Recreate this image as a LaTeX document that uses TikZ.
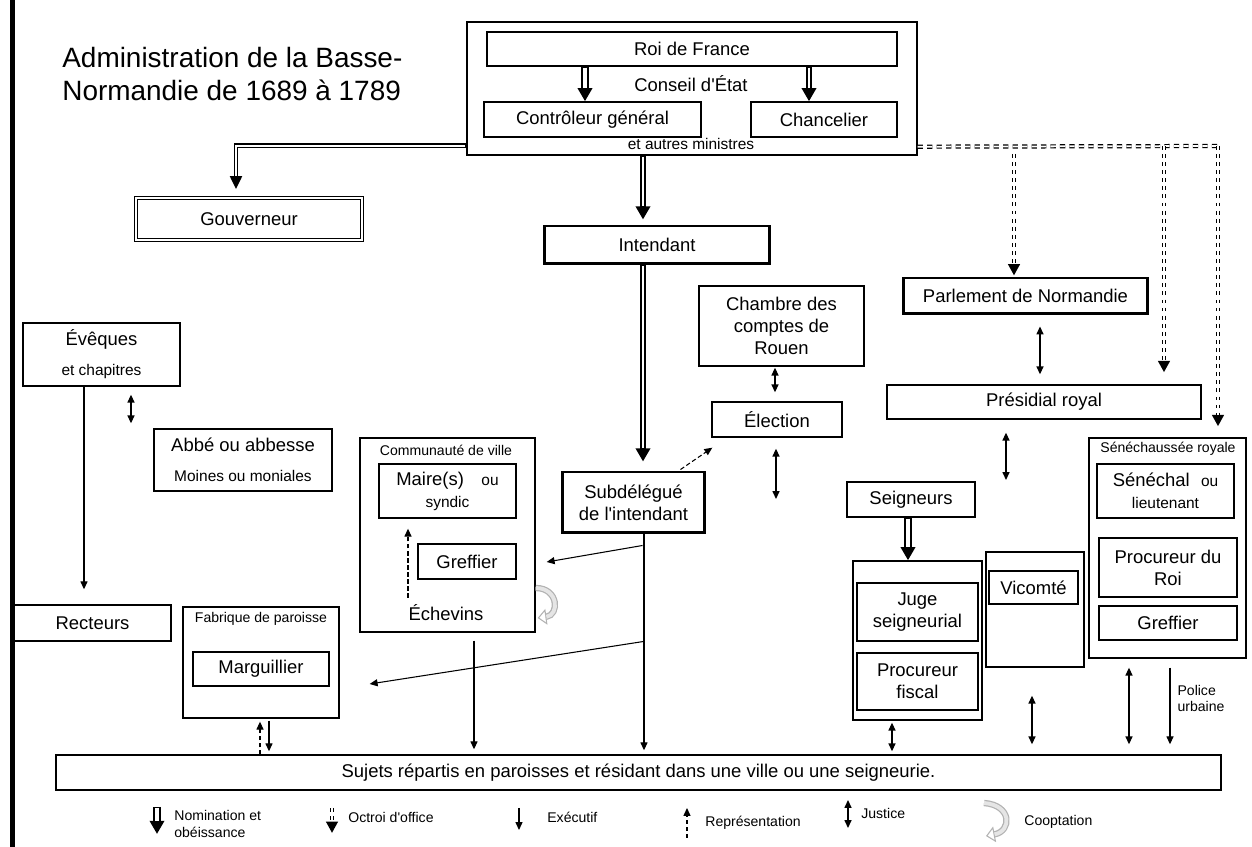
\documentclass[tikz,border=0pt]{standalone}
\usepackage{fontspec}
\setmainfont{Liberation Sans}[Ligatures=CommonOff]
\usetikzlibrary{arrows.meta,positioning,calc}

\newcommand{\fsMain}{\fontsize{10.5}{12.5}\selectfont}
\newcommand{\fsSmall}{\fontsize{8.8}{10.4}\selectfont}
\newcommand{\fsNote}{\fontsize{8}{9.2}\selectfont}
\newcommand{\fsTitle}{\fontsize{15.9}{18.8}\selectfont}

\begin{document}
\begin{tikzpicture}[x=0.02cm, y=-0.02cm,
  box/.style={draw, line width=0.8pt, inner sep=0pt, align=center, font=\fsMain},
  boldbox/.style={box, line width=1.7pt},
  group/.style={draw, line width=0.8pt, inner sep=0pt},
  txt/.style={inner sep=0pt, align=center, font=\fsMain},
  note/.style={inner sep=0pt, align=left, font=\fsNote},
  nom/.style={line width=4.4pt, -{Triangle[length=7.5pt,width=8pt]},
    postaction={draw=white, line width=2.2pt, arrows=-, shorten <=0.5pt, shorten >=7.5pt}},
  nomb/.style={line width=3.8pt, -{Triangle[length=7.5pt,width=8pt]},
    postaction={draw=white, line width=1pt, arrows=-, shorten <=0.5pt, shorten >=7.5pt}},
  nomt/.style={line width=2.8pt, -{Triangle[length=7.5pt,width=6.5pt]},
    postaction={draw=white, line width=1.3pt, arrows=-, shorten <=0.5pt, shorten >=7.5pt}},
  octh/.style={line width=2.4pt, dash pattern=on 3pt off 2.4pt,
    postaction={draw=white, line width=1pt}},
  oct/.style={line width=2.6pt, dash pattern=on 2.2pt off 2.4pt, -{Triangle[length=6.5pt,width=6.5pt]},
    postaction={draw=white, line width=0.9pt, arrows=-, shorten >=6.5pt}},
  just/.style={line width=0.7pt, {Triangle[length=4.5pt,width=4pt]}-{Triangle[length=4.5pt,width=4pt]}},
  exe/.style={line width=0.6pt, -{Triangle[length=4.5pt,width=4pt]}},
  repr/.style={exe, dash pattern=on 2.5pt off 1.5pt},
  coop/.style={line width=3.6pt, draw=gray!60, -{Triangle[length=5pt,width=9pt,fill=white,line width=0.6pt]},
    postaction={draw=gray!20, line width=2.2pt, arrows=-, shorten >=5pt}}
]
\useasboundingbox (0,0) rectangle (1252,847);

\draw[line width=2.3pt] (12.5,0) -- (12.5,847);
\node[anchor=north west, inner sep=0pt, align=left, font=\fsTitle] (titre) at (62,47) {Administration de la Basse-\\Normandie de 1689 à 1789};

\node[group, minimum width=9cm, minimum height=2.66cm] (conseil) at (692,88.5) {};
\node[box, minimum width=8.2cm, minimum height=0.68cm] (roi) at (692,49) {Roi de France};
\node[txt, anchor=base] (ce) at (691,92) {Conseil d\textquotesingle État};
\node[box, minimum width=4.34cm, minimum height=0.7cm] (controleur) at (592.5,119.5) {Contrôleur général};
\node[box, minimum width=2.92cm, minimum height=0.7cm] (chancelier) at (824,119.5) {Chancelier};
\node[txt, anchor=base, font=\fsSmall] (ministres) at (691,150) {et autres ministres};

\node[box, double, double distance=1.3pt, line width=0.7pt, minimum width=4.52cm, minimum height=0.84cm] (gouverneur) at (249,219) {Gouverneur};
\node[boldbox, minimum width=4.52cm, minimum height=0.76cm] (intendant) at (657,245) {Intendant};
\node[box, minimum width=3.3cm, minimum height=1.6cm] (chambre) at (781.5,326) {Chambre des\\comptes de\\Rouen};
\node[box, minimum width=2.6cm, minimum height=0.7cm] (election) at (777,419.5) {Élection};
\node[boldbox, minimum width=2.86cm, minimum height=1.22cm] (subdelegue) at (633.5,502.5) {Subdélégué\\de l\textquotesingle intendant};

\node[boldbox, minimum width=4.9cm, minimum height=0.72cm] (parlement) at (1025.5,296) {Parlement de Normandie};
\node[box, minimum width=6.28cm, minimum height=0.68cm] (presidial) at (1044,402) {Présidial royal};
\node[box, minimum width=2.56cm, minimum height=0.7cm] (seigneurs) at (911,499.5) {Seigneurs};
\node[group, minimum width=2.58cm, minimum height=3.18cm] (seigneurie) at (917.5,640.5) {};
\node[box, minimum width=2.42cm, minimum height=1.16cm] (juge) at (917.5,612) {Juge\\seigneurial};
\node[box, minimum width=2.42cm, minimum height=1.14cm] (procfiscal) at (917.5,681.5) {Procureur\\fiscal};
\node[group, minimum width=1.96cm, minimum height=2.3cm] (vicomte) at (1035,609.5) {};
\node[box, minimum width=1.78cm, minimum height=0.66cm] (vicomteint) at (1033.5,587.5) {Vicomté};
\node[group, minimum width=3.14cm, minimum height=4.4cm] (senechaussee) at (1167.5,548) {};
\node[note, anchor=base] (senetitre) at (1168,453) {Sénéchaussée royale};
\node[box, minimum width=2.74cm, minimum height=1.08cm] (senechal) at (1165.5,491) {Sénéchal\hspace{3.5pt} {\fsSmall ou}\\{\fsSmall lieutenant}};
\node[box, minimum width=2.76cm, minimum height=1.18cm] (procroi) at (1168,567.5) {Procureur du\\Roi};
\node[box, minimum width=2.76cm, minimum height=0.68cm] (greffierS) at (1168,623) {Greffier};

\node[box, minimum width=3.14cm, minimum height=1.26cm] (eveques) at (101.5,354.5) {Évêques\\[4.5pt]{\fsSmall et chapitres}};
\node[box, minimum width=3.56cm, minimum height=1.24cm] (abbe) at (243,460) {Abbé ou abbesse\\[4.5pt]{\fsSmall Moines ou moniales}};
\node[group, minimum width=3.5cm, minimum height=3.88cm] (communaute) at (447.5,535) {};
\node[note, anchor=base] (comtitre) at (446,456) {Communauté de ville};
\node[box, minimum width=2.74cm, minimum height=1.08cm] (maire) at (447.5,491) {Maire(s)\hspace{7pt} {\fsSmall ou}\\{\fsSmall syndic}};
\node[box, minimum width=1.96cm, minimum height=0.7cm] (greffierC) at (467,561.5) {Greffier};
\node[txt, anchor=base] (echevins) at (446,621) {Échevins};
\node[box, minimum width=3.14cm, minimum height=0.72cm] (recteurs) at (92.5,623) {Recteurs};
\node[group, minimum width=3.12cm, minimum height=2.22cm] (fabrique) at (261,662.5) {};
\node[note, anchor=base] (fabtitre) at (261,623) {Fabrique de paroisse};
\node[box, minimum width=2.72cm, minimum height=0.68cm] (marguillier) at (261,669) {Marguillier};

\node[box, minimum width=23.3cm, minimum height=0.7cm] (sujets) at (638.5,772.5) {Sujets répartis en paroisses et résidant dans une ville ou une seigneurie.};

\draw[nom] ($(controleur.north |- roi.south)+(-7.5,0)$) -- ($(controleur.north)+(-7.5,0)$);
\draw[nomb] ($(chancelier.north |- roi.south)+(-15,0)$) -- ($(chancelier.north)+(-15,0)$);
\draw[nomt] ($(conseil.south west)+(0,-10)$) -| ($(gouverneur.north)+(-13,-8)$);
\draw[nomb] ($(intendant.north |- conseil.south)+(-14,0)$) -- ($(intendant.north)+(-14,-5)$);
\draw[nomb] ($(intendant.south)+(-14,0)$) -- ($(intendant.south |- subdelegue.north)+(-14,-9)$);
\draw[nom] ($(seigneurs.south)+(-3,0)$) -- ($(seigneurs.south |- seigneurie.north)+(-3,0)$);

\coordinate (octE) at (1218,146);
\coordinate (octR) at (1164,146);
\coordinate (octP) at (1014,154);
\draw[octh] ($(conseil.south east)+(0,-9)$) -- (octE);
\draw[oct] (octE) -- ($(octE |- senechaussee.north)+(0,-11)$);
\draw[oct] (octR) -- ($(octR |- presidial.north)+(0,-12)$);
\draw[oct] (octP) -- ($(octP |- parlement.north)+(0,-1)$);

\coordinate (elecJ) at (776,499);
\coordinate (presJ) at (1006,480);
\draw[just] ($(parlement.south)+(14.5,11)$) -- ($(parlement.south |- presidial.north)+(14.5,-10)$);
\draw[just] ($(chambre.south)+(-6.5,1)$) -- ($(chambre.south |- election.north)+(-6.5,-9)$);
\draw[just] ($(election.south)+(-1,11)$) -- (elecJ);
\draw[just] ($(eveques.south)+(29.5,8)$) -- ($(eveques.south |- abbe.north)+(29.5,-5)$);
\draw[just] ($(presidial.south)+(-38,13)$) -- (presJ);
\draw[just] ($(seigneurie.south)+(-25.5,2)$) -- ($(seigneurie.south |- sujets.north)+(-25.5,-3)$);
\draw[just] ($(vicomte.south)+(-3,28)$) -- ($(vicomte.south |- sujets.north)+(-3,-10)$);
\draw[just] ($(senechaussee.south)+(-38.5,9)$) -- ($(senechaussee.south |- sujets.north)+(-38.5,-10)$);

\draw[exe] ($(senechaussee.south)+(2.5,9)$) -- node[pos=0.4, right=4pt, note] (police) {Police\\urbaine} ($(senechaussee.south |- sujets.north)+(2.5,-10)$);
\draw[exe] ($(eveques.south)+(-17.5,0)$) -- ($(eveques.south |- recteurs.north)+(-17.5,-15)$);
\draw[exe] ($(subdelegue.south)+(10.5,0)$) -- ($(subdelegue.south |- sujets.north)+(10.5,-4)$);
\draw[exe] ($(subdelegue.south)+(9,11)$) -- ($(communaute.east)+(11,27)$);
\draw[exe] ($(subdelegue.south)+(10,107)$) -- ($(fabrique.east)+(30,21.5)$);
\draw[exe] ($(communaute.south)+(26.5,8)$) -- ($(communaute.south |- sujets.north)+(26.5,-5)$);
\draw[exe] ($(fabrique.south)+(8,2)$) -- ($(fabrique.south |- sujets.north)+(8,-3)$);

\draw[repr] ($(fabrique.south |- sujets.north)+(-1,0)$) -- ($(fabrique.south)+(-1,3)$);
\draw[repr] ($(maire.south)+(-39.5,79)$) -- ($(maire.south)+(-39.5,10)$);
\draw[repr] ($(subdelegue.north)+(47,-1)$) -- ($(election.south west)+(1,10)$);

\draw[coop] ($(communaute.east)+(0,53)$) .. controls +(23,0) and +(22,-3) .. ($(communaute.east)+(2,83)$);

\node[note, anchor=west] (lgnom) at (174,824) {Nomination et\\obéissance};
\draw[nom] ($(lgnom.west)+(-17,-17)$) -- ++(0,27);
\node[note, anchor=west] (lgoct) at (348,817) {Octroi d\textquotesingle office};
\draw[oct] ($(lgoct.west)+(-16,-9)$) -- ++(0,25);
\node[note, anchor=west] (lgexe) at (547,817) {Exécutif};
\draw[exe] ($(lgexe.west)+(-28,-9)$) -- ++(0,22);
\node[note, anchor=west] (lgrep) at (705,823) {Représentation};
\draw[repr] ($(lgrep.west)+(-18,15)$) -- ++(0,-30);
\node[note, anchor=west] (lgjus) at (861,813) {Justice};
\draw[just] ($(lgjus.west)+(-13,-13)$) -- ++(0,28);
\node[note, anchor=west] (lgcoop) at (1024,822) {Cooptation};
\draw[coop] ($(lgcoop.west)+(-40,-19)$) .. controls +(28,2) and +(26,-5) .. ++(2,33);

\end{tikzpicture}
\end{document}
